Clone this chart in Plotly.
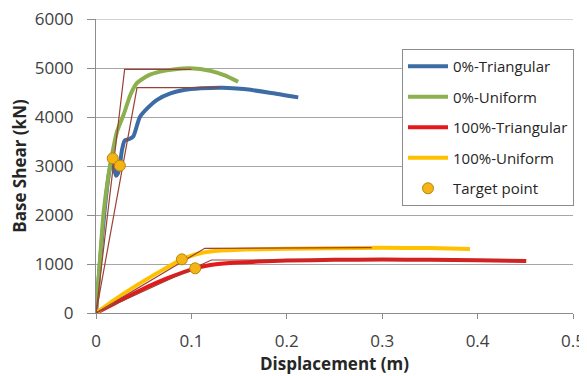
import plotly.graph_objects as go

# ---- data ----
tri0_x = [0, 0.004, 0.009, 0.014, 0.017, 0.019, 0.021, 0.023, 0.025, 0.027, 0.030, 0.035, 0.039, 0.046, 0.055, 0.064, 0.078, 0.092, 0.110, 0.133, 0.155, 0.182, 0.212]
tri0_y = [0, 1000, 2100, 2900, 3150, 2950, 2800, 2850, 3007, 3300, 3520, 3550, 3600, 4000, 4200, 4350, 4480, 4550, 4585, 4598, 4570, 4496, 4400]

uni0_x = [0, 0.004, 0.008, 0.013, 0.0175, 0.022, 0.029, 0.036, 0.0426, 0.055, 0.067, 0.083, 0.0985, 0.1195, 0.135, 0.149]
uni0_y = [0, 1050, 2050, 2800, 3300, 3700, 4050, 4450, 4687, 4850, 4925, 4975, 4993, 4945, 4850, 4720]

tri100_x = [0, 0.02, 0.046, 0.075, 0.104, 0.12, 0.14, 0.17, 0.20, 0.25, 0.30, 0.35, 0.40, 0.451]
tri100_y = [0, 200, 460, 710, 912, 980, 1020, 1050, 1070, 1085, 1090, 1085, 1075, 1061]

uni100_x = [0, 0.02, 0.046, 0.07, 0.09, 0.105, 0.12, 0.15, 0.20, 0.25, 0.30, 0.35, 0.392]
uni100_y = [0, 280, 605, 880, 1095, 1200, 1255, 1290, 1310, 1322, 1330, 1325, 1306]

target_x = [0.0175, 0.025, 0.090, 0.104]
target_y = [3156, 3007, 1095, 912]

# idealised bilinear curves
bil_uni0_x = [0, 0.030, 0.100]
bil_uni0_y = [0, 4970, 4970]
bil_tri0_x = [0, 0.043, 0.130]
bil_tri0_y = [0, 4600, 4600]
bil_uni100_x = [0, 0.114, 0.289]
bil_uni100_y = [0, 1320, 1335]
bil_tri100_x = [0, 0.121, 0.450]
bil_tri100_y = [0, 1082, 1082]

x_ticks = [0, 0.1, 0.2, 0.3, 0.4, 0.5]
x_tick_text = ["0", "0.1", "0.2", "0.3", "0.4", "0.5"]
y_ticks = [0, 1000, 2000, 3000, 4000, 5000, 6000]

FONT = "Open Sans"
fig = go.Figure()

series = [
    ("0%-Triangular", tri0_x, tri0_y, "#3D6BA3"),
    ("0%-Uniform", uni0_x, uni0_y, "#8DB04F"),
    ("100%-Triangular", tri100_x, tri100_y, "#E3191C"),
    ("100%-Uniform", uni100_x, uni100_y, "#FFC000"),
]
for i, (name, xs, ys, col) in enumerate(series):
    fig.add_trace(go.Scatter(x=xs, y=ys, mode="lines", name=name,
                             line=dict(color=col, width=4, shape="spline", smoothing=0.6),
                             legendgroup=f"g{i}"))

for xs, ys in [(bil_uni0_x, bil_uni0_y), (bil_tri0_x, bil_tri0_y),
               (bil_uni100_x, bil_uni100_y), (bil_tri100_x, bil_tri100_y)]:
    fig.add_trace(go.Scatter(x=xs, y=ys, mode="lines", showlegend=False,
                             line=dict(color="#9A4034", width=1.2), hoverinfo="skip"))

fig.add_trace(go.Scatter(x=target_x, y=target_y, mode="markers", name="Target point",
                         marker=dict(size=11, color="#F4B414", line=dict(color="#B8860B", width=1)),
                         legendgroup="g9"))

# top gridline (plotly omits the one on the plot edge)
fig.add_shape(type="line", xref="paper", yref="y", x0=0, x1=1,
              y0=y_ticks[-1], y1=y_ticks[-1], line=dict(color="#A6A6A6", width=1), layer="below")

# the page adds an 8px body margin, so the figure is 8px smaller and left/top margins shifted
fig.update_layout(
    width=579, height=368,
    margin=dict(l=88, r=14, t=11, b=63, autoexpand=False),
    paper_bgcolor="white", plot_bgcolor="white",
    font=dict(family=FONT, color="#404040"),
    legend=dict(x=0.6415, y=0.898, xanchor="left", yanchor="top",
                bgcolor="white", bordercolor="#8C8C8C", borderwidth=1,
                font=dict(size=15, color="#262626"), tracegroupgap=8, itemwidth=40),
    xaxis=dict(range=[0, 0.5], tickvals=x_ticks, ticktext=x_tick_text, automargin=False,
               showgrid=False, zeroline=False, showline=True, linecolor="#8C8C8C", linewidth=1,
               ticks="outside", ticklen=5, tickcolor="#8C8C8C", ticklabelstandoff=8,
               ticklabeloverflow="allow",
               tickfont=dict(size=17, color="#404040"),
               title=dict(text="<b>Displacement (m)</b>", font=dict(size=17, color="#262626"), standoff=4)),
    yaxis=dict(range=[0, 6000], tickvals=y_ticks, automargin=False,
               showgrid=True, gridcolor="#A6A6A6", gridwidth=1, zeroline=False,
               showline=True, linecolor="#8C8C8C", linewidth=1,
               ticks="outside", ticklen=8, tickcolor="#8C8C8C", ticklabelstandoff=10,
               ticklabeloverflow="allow",
               tickfont=dict(size=17, color="#404040"),
               title=dict(text="<b>Base Shear (kN)</b>", font=dict(size=17, color="#262626"), standoff=6)),
)

fig.write_html("out.html")
